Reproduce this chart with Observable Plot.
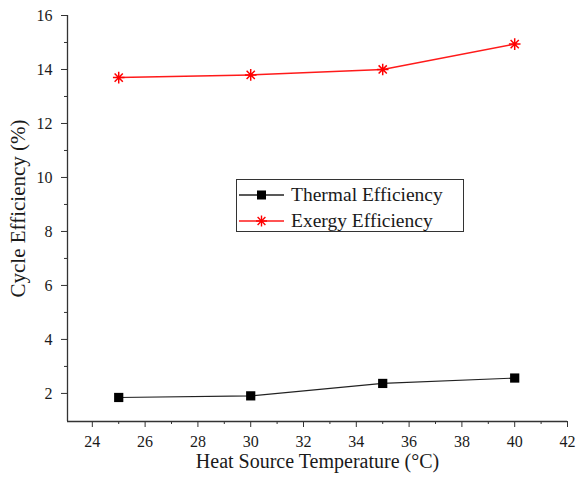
<!DOCTYPE html>
<html>
<head>
<meta charset="utf-8">
<script src="https://cdn.jsdelivr.net/npm/d3@7"></script>
<script src="https://cdn.jsdelivr.net/npm/@observablehq/plot@0.6"></script>
<style>
  html, body { margin: 0; padding: 0; background: #fff; }
  #wrap { position: relative; width: 576px; height: 479px; }
  #legend {
    position: absolute; left: 236px; top: 179px; width: 228px; height: 53px;
    border: 1px solid #333; background: #fff; box-sizing: border-box;
    font-family: "Liberation Serif", serif; font-size: 19.5px; color: #1a1a1a;
  }
  .row { position: absolute; left: 0; height: 24px; display: flex; align-items: center; }
  .row svg { margin-left: 2px; margin-right: 7px; }
</style>
</head>
<body>
<div id="wrap"></div>
<script>
// Data
const temperatures = [25, 30, 35, 40];
const thermalEfficiency = [1.85, 1.91, 2.37, 2.57];
const exergyEfficiency = [13.70, 13.80, 14.00, 14.94];
const seriesNames = ["Thermal Efficiency", "Exergy Efficiency"];
const xTicks = [24, 26, 28, 30, 32, 34, 36, 38, 40, 42];
const xMinorTicks = [25, 27, 29, 31, 33, 35, 37, 39, 41];
const yTicks = [2, 4, 6, 8, 10, 12, 14, 16];
const yMinorTicks = [3, 5, 7, 9, 11, 13, 15];
const xDomain = [23.06, 42];
const yDomain = [0.96, 16];
const xTitle = "Heat Source Temperature (°C)";
const yTitle = "Cycle Efficiency (%)";

const thermal = temperatures.map((t, i) => ({t, v: thermalEfficiency[i]}));
const exergy = temperatures.map((t, i) => ({t, v: exergyEfficiency[i]}));

// 8-spoke asterisk symbol
const star = {
  draw(context, size) {
    const r = Math.sqrt(size / Math.PI);
    const d = r * Math.SQRT1_2;
    context.moveTo(0, -r); context.lineTo(0, r);
    context.moveTo(-r, 0); context.lineTo(r, 0);
    context.moveTo(-d, -d); context.lineTo(d, d);
    context.moveTo(-d, d); context.lineTo(d, -d);
  }
};

const font = "Liberation Serif";
const ink = "#1a1a1a";

const chart = Plot.plot({
  width: 576,
  height: 479,
  marginLeft: 67,
  marginRight: 9,
  marginTop: 15,
  marginBottom: 58,
  x: {domain: xDomain},
  y: {domain: yDomain},
  style: {fontFamily: font, fontSize: "16px", color: ink, background: "white"},
  marks: [
    Plot.axisX({ticks: xTicks, tickSize: 6, tickPadding: 8, tickFormat: d => d, label: null, fontSize: 16, fontFamily: font, stroke: "#333"}),
    Plot.axisX({ticks: xMinorTicks, tickSize: 3, text: null, label: null, stroke: "#333"}),
    Plot.axisY({ticks: yTicks, tickSize: 6, tickPadding: 9, tickFormat: d => d, label: null, fontSize: 16, fontFamily: font, stroke: "#333"}),
    Plot.axisY({ticks: yMinorTicks, tickSize: 3, text: null, label: null, stroke: "#333"}),
    Plot.ruleX([xDomain[0]], {stroke: "#333", strokeWidth: 1.3}),
    Plot.ruleY([yDomain[0]], {stroke: "#333", strokeWidth: 1.3}),
    Plot.text([xTitle], {frameAnchor: "bottom", dy: 46, fontSize: 20, fontFamily: font, fill: ink}),
    Plot.text([yTitle], {frameAnchor: "left", textAnchor: "middle", rotate: -90, dx: -49, dy: -10, fontSize: 21, fontFamily: font, fill: ink}),
    Plot.line(thermal, {x: "t", y: "v", stroke: "#222", strokeWidth: 1.2}),
    Plot.dot(thermal, {x: "t", y: "v", symbol: "square", r: 5.2, fill: "#000", stroke: "none"}),
    Plot.line(exergy, {x: "t", y: "v", stroke: "#ff1a1a", strokeWidth: 1.5}),
    Plot.dot(exergy, {x: "t", y: "v", symbol: star, r: 5.8, stroke: "#ff0000", strokeWidth: 1.5, fill: "none"})
  ]
});

// make sure every SVG text uses the serif face
d3.select(chart).selectAll("text")
  .style("font-family", "'Liberation Serif', 'Times New Roman', serif")
  .style("font-variant", "normal");

const wrap = document.getElementById("wrap");
wrap.appendChild(chart);

// Legend
const legend = document.createElement("div");
legend.id = "legend";
const swatches = [
  `<svg width="45" height="14"><line x1="0" y1="7" x2="45" y2="7" stroke="#222" stroke-width="1.3"/><rect x="18" y="2.5" width="9" height="9" fill="#000"/></svg>`,
  `<svg width="45" height="14"><line x1="0" y1="7" x2="45" y2="7" stroke="#ff1a1a" stroke-width="1.5"/><g stroke="#ff0000" stroke-width="1.4"><line x1="22.5" y1="1.5" x2="22.5" y2="12.5"/><line x1="17" y1="7" x2="28" y2="7"/><line x1="18.6" y1="3.1" x2="26.4" y2="10.9"/><line x1="18.6" y1="10.9" x2="26.4" y2="3.1"/></g></svg>`
];
seriesNames.forEach((name, i) => {
  const row = document.createElement("div");
  row.className = "row";
  row.style.top = (3 + i * 26) + "px";
  row.innerHTML = swatches[i] + `<span>${name}</span>`;
  legend.appendChild(row);
});
wrap.appendChild(legend);
</script>
</body>
</html>
